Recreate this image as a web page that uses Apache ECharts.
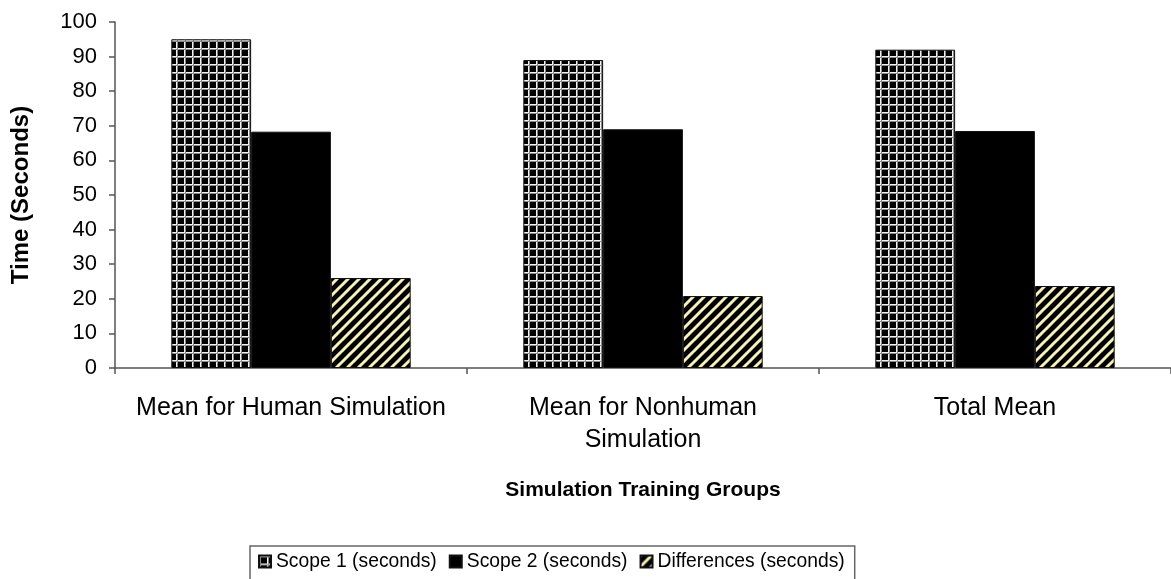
<!DOCTYPE html>
<html>
<head>
<meta charset="utf-8">
<script src="https://cdn.jsdelivr.net/npm/echarts@6/dist/echarts.min.js"></script>
<style>
  html, body { margin: 0; padding: 0; background: #fff; }
  #chart { width: 1171px; height: 579px; }
</style>
</head>
<body>
<div id="chart"></div>
<script>
const categories = ["Mean for Human Simulation", "Mean for Nonhuman\nSimulation", "Total Mean"];
const scope1 = [95, 89, 92];
const scope2 = [68.3, 69, 68.5];
const differences = [26, 20.8, 23.7];
const seriesNames = ["Scope 1 (seconds)", "Scope 2 (seconds)", "Differences (seconds)"];

// grid pattern: black with light lines
function gridPattern() {
  const c = document.createElement("canvas");
  c.width = 8;
  c.height = 8;
  const ctx = c.getContext("2d");
  ctx.fillStyle = "#000";
  ctx.fillRect(0, 0, 8, 8);
  ctx.fillStyle = "#f2f2f2";
  ctx.fillRect(0, 0, 8, 1);
  ctx.fillRect(0, 0, 1, 8);
  ctx.fillStyle = "#8a8a8a";
  ctx.fillRect(0, 1, 8, 1);
  ctx.fillRect(1, 0, 1, 8);
  return c;
}

// diagonal stripes, pale yellow on black
function stripePattern() {
  const s = 11;
  const c = document.createElement("canvas");
  c.width = s;
  c.height = s;
  const ctx = c.getContext("2d");
  ctx.fillStyle = "#000";
  ctx.fillRect(0, 0, s, s);
  ctx.strokeStyle = "#f6f2b8";
  ctx.lineWidth = 3;
  [-s, 0, s].forEach(function (o) {
    ctx.beginPath();
    ctx.moveTo(o - 1, s + 1);
    ctx.lineTo(o + s + 1, -1);
    ctx.stroke();
  });
  return c;
}

const chart = echarts.init(document.getElementById("chart"));
const font = "'Liberation Sans', Arial, sans-serif";

const option = {
  animation: false,
  textStyle: { fontFamily: font },
  grid: { left: 115, right: 0, top: 22, bottom: 211 },
  legend: {
    data: seriesNames,
    top: 546,
    left: 250,
    icon: "rect",
    itemWidth: 12,
    itemHeight: 12,
    itemGap: 12,
    padding: [6, 10, 30, 8],
    borderColor: "#666",
    borderWidth: 1.5,
    textStyle: { fontSize: 19.3, color: "#000", fontFamily: font }
  },
  xAxis: {
    type: "category",
    data: categories,
    name: "Simulation Training Groups",
    nameLocation: "middle",
    nameGap: 112,
    nameTextStyle: { fontSize: 21, fontWeight: "bold", color: "#000" },
    axisLine: { lineStyle: { color: "#555", width: 1.5 } },
    axisTick: { show: true, interval: 0, length: 6, lineStyle: { color: "#555", width: 1.5 } },
    axisLabel: { interval: 0, fontSize: 25, color: "#000", margin: 24, lineHeight: 32 }
  },
  yAxis: {
    type: "value",
    min: 0,
    max: 100,
    interval: 10,
    name: "Time (Seconds)",
    nameLocation: "middle",
    nameGap: 82,
    nameTextStyle: { fontSize: 24, fontWeight: "bold", color: "#000" },
    splitLine: { show: false },
    axisLine: { show: true, lineStyle: { color: "#555", width: 1.5 } },
    axisTick: { show: true, length: 6, lineStyle: { color: "#555", width: 1.5 } },
    axisLabel: { fontSize: 22, color: "#000", margin: 18 }
  },
  series: [
    {
      name: seriesNames[0],
      type: "bar",
      data: scope1,
      barGap: "0%",
      barCategoryGap: "32%",
      itemStyle: { color: { image: gridPattern(), repeat: "repeat" }, borderColor: "#111", borderWidth: 1 }
    },
    {
      name: seriesNames[1],
      type: "bar",
      data: scope2,
      itemStyle: { color: "#000", borderColor: "#111", borderWidth: 1 }
    },
    {
      name: seriesNames[2],
      type: "bar",
      data: differences,
      itemStyle: { color: { image: stripePattern(), repeat: "repeat" }, borderColor: "#111", borderWidth: 1 }
    }
  ]
};

chart.setOption(option);
</script>
</body>
</html>
